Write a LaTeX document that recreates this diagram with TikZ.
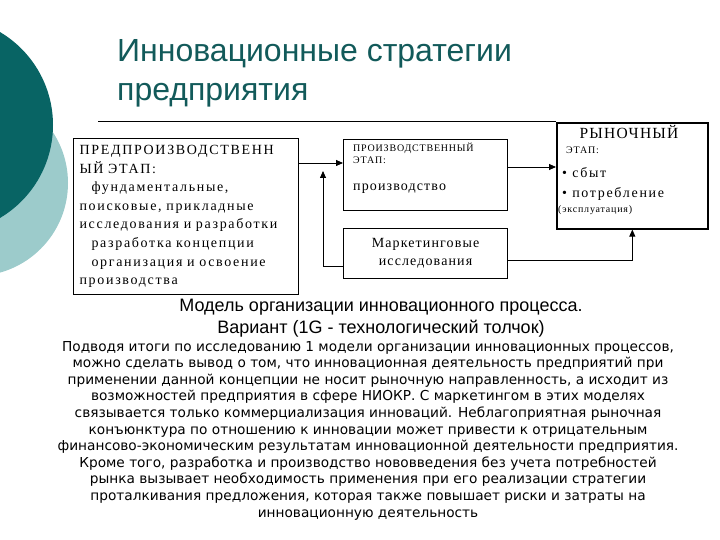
\documentclass[tikz,border=0pt]{standalone}
\usepackage{fontspec}
\setmainfont{Liberation Serif}
\newfontfamily\titlefont{Liberation Sans}
\newfontfamily\bodyfont{DejaVu Sans}
\newfontfamily\boxfont[LetterSpace=8]{Liberation Serif}
\newfontfamily\wideboxfont[LetterSpace=12]{Liberation Serif}
\usetikzlibrary{arrows.meta,positioning}

\definecolor{slidedark}{RGB}{8,100,100}
\definecolor{slidelight}{RGB}{156,203,203}
\definecolor{titleteal}{RGB}{18,90,90}

\tikzset{
  stage/.style={draw, line width=1.1pt, rectangle, inner sep=0pt, anchor=north west},
  boxtext/.style={anchor=base west, inner sep=0pt},
  big/.style={font=\boxfont\fontsize{14}{18.4}\selectfont},
  small/.style={font=\boxfont\fontsize{10}{12}\selectfont}
}

\begin{document}
\begin{tikzpicture}[x=1pt,y=-1pt,>={Triangle[length=7pt,width=6pt]}]
  \useasboundingbox (0,0) rectangle (720,540);
  % slide decoration
  \fill[slidelight] (-25,183) circle[radius=93];
  \fill[slidedark] (-55,125) circle[radius=108];
  \draw[line width=0.8pt] (98,121) -- (556,121);
  \node[anchor=base west, inner sep=0pt, align=left, text=titleteal,
        font=\titlefont\fontsize{32}{39}\selectfont] (title) at (117,101)
    {Инновационные стратегии\\предприятия};

  % stages
  \node[stage, font=\wideboxfont\fontsize{14}{18.6}\selectfont, minimum width=225pt,
        minimum height=156pt, text width=213pt, inner xsep=6pt, align=left] (preprod) at (73,138)
    {ПРЕДПРОИЗВОДСТВЕНН\\ЫЙ ЭТАП:\\
     \hspace*{12pt}фундаментальные,\\
     поисковые, прикладные\\
     исследования и разработки\\
     \hspace*{12pt}разработка концепции\\
     \hspace*{12pt}организация и освоение\\
     производства};

  \node[stage, minimum width=164pt, minimum height=71pt] (prod) at (343,139) {};
  \node[boxtext, small] (prodA) at (353,152) {ПРОИЗВОДСТВЕННЫЙ};
  \node[boxtext, small] (prodB) at (353,164) {ЭТАП:};
  \node[boxtext, big] (prodC) at (353,191) {производство};

  \node[stage, big, minimum width=164pt, minimum height=50pt, align=center] (mkt) at (343,228)
    {Маркетинговые\\исследования};

  \node[stage, line width=1.6pt, minimum width=151pt, minimum height=106pt] (market) at (556,122) {};
  \node[anchor=base, inner sep=0pt, font=\boxfont\fontsize{15.5}{18}\selectfont] (marketA) at (629,139) {РЫНОЧНЫЙ};
  \node[boxtext, small] (marketB) at (566,154) {ЭТАП:};
  \node[boxtext, font=\wideboxfont\fontsize{14}{18}\selectfont] (marketC) at (562,178) {\textbullet\ сбыт};
  \node[boxtext, font=\wideboxfont\fontsize{14}{18}\selectfont] (marketD) at (562,197) {\textbullet\ потребление};
  \node[boxtext, small] (marketE) at (558,212) {(эксплуатация)};

  % connectors
  \coordinate (lvlA) at (0,163);
  \coordinate (lvlB) at (0,167);
  \coordinate (lvlC) at (0,266);
  \coordinate (lvlD) at (0,260);
  \coordinate (fbtop) at (323,171);
  \draw[->, line width=0.8pt] (preprod.east |- lvlA) -- (prod.west |- lvlA);
  \draw[->, line width=0.8pt] (prod.east |- lvlB) -- (market.west |- lvlB);
  \draw[->, line width=0.8pt] (mkt.west |- lvlC) -| (fbtop);
  \draw[->, line width=0.8pt] (mkt.east |- lvlD) -| (market.south);

  % caption and text
  \node[anchor=base, inner sep=0pt, align=center,
        font=\titlefont\fontsize{18}{22}\selectfont] (caption) at (381,333)
    {Модель организации инновационного процесса.\\Вариант (1G - технологический толчок)};
  \node[anchor=north, inner sep=0pt, align=center,
        font=\bodyfont\fontsize{13.7}{16.6}\selectfont] (body) at (368,341)
    {Подводя итоги по исследованию 1 модели организации инновационных процессов,\\
     можно сделать вывод о том, что инновационная деятельность предприятий при\\
     применении данной концепции не носит рыночную направленность, а исходит из\\
     возможностей предприятия в сфере НИОКР. С маркетингом в этих моделях\\
     связывается только коммерциализация инноваций. Неблагоприятная рыночная\\
     конъюнктура по отношению к инновации может привести к отрицательным\\
     финансово-экономическим результатам инновационной деятельности предприятия.\\
     Кроме того, разработка и производство нововведения без учета потребностей\\
     рынка вызывает необходимость применения при его реализации стратегии\\
     проталкивания предложения, которая также повышает риски и затраты на\\
     инновационную деятельность};
\end{tikzpicture}
\end{document}
